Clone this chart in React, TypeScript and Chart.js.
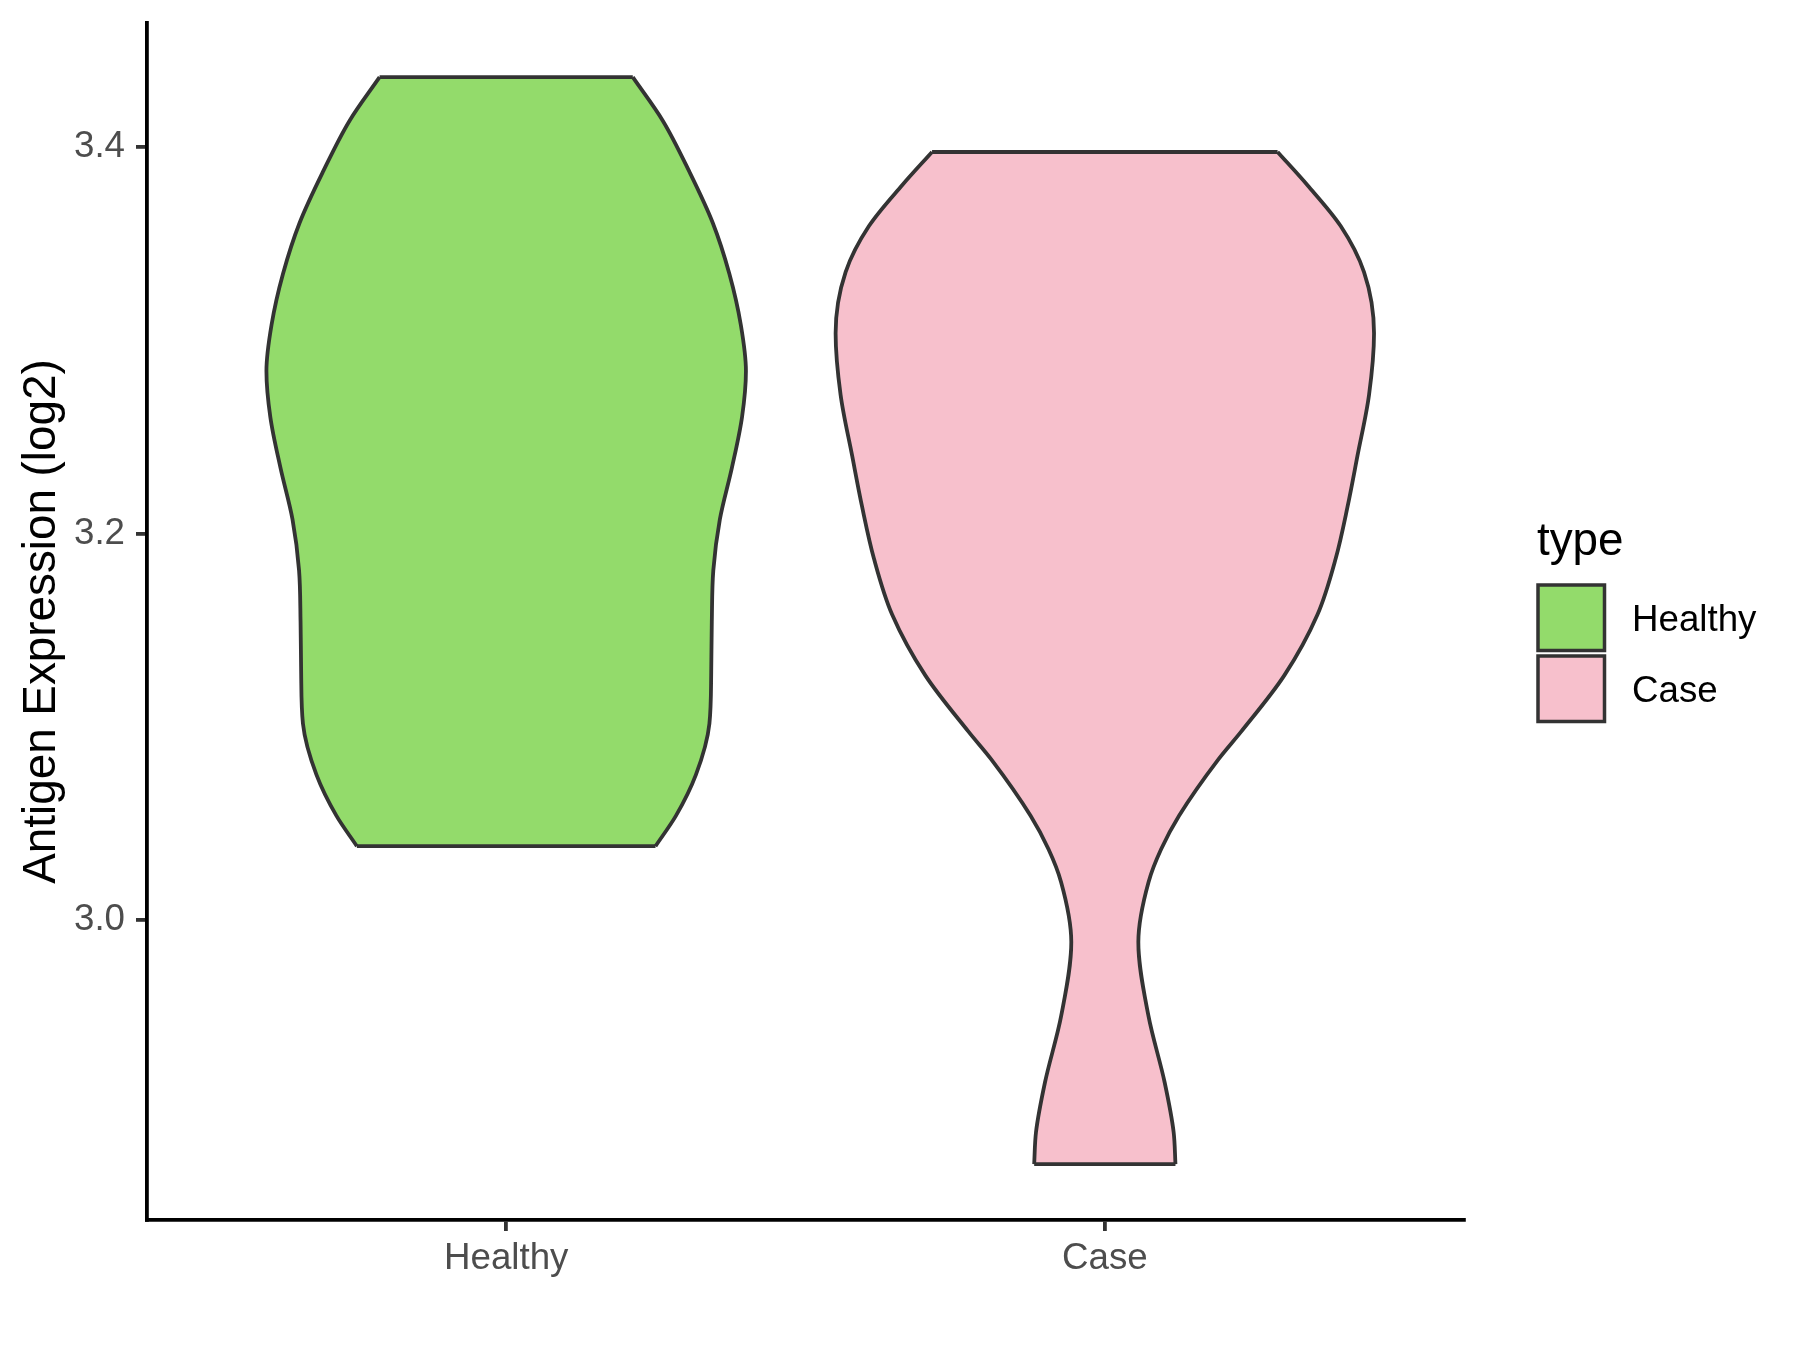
import React, { useEffect, useRef } from 'react';
import { Chart, registerables } from 'chart.js';

Chart.register(...registerables);

// ---- data ----
const categories = ['Healthy', 'Case'];
const categoryPositions = [1, 2];

// Healthy violin outline: expression values (log2) and half-widths (x units)
const healthyValues = [3.0383, 3.0541, 3.0753, 3.1017, 3.1281, 3.1546, 3.181, 3.2074, 3.2339, 3.2603, 3.2841, 3.3078, 3.3343, 3.3607, 3.3871, 3.4135, 3.436];
const healthyHalfWidths = [0.2494, 0.2837, 0.317, 0.3395, 0.3425, 0.3435, 0.346, 0.357, 0.377, 0.394, 0.4005, 0.392, 0.3728, 0.345, 0.306, 0.2616, 0.2115];

// Case violin outline
const caseValues = [2.8739, 2.8903, 2.9161, 2.9504, 2.9887, 3.0197, 3.0367, 3.054, 3.0833, 3.0974, 3.1265, 3.1581, 3.1872, 3.2136, 3.2401, 3.2718, 3.3035, 3.3352, 3.359, 3.3801, 3.3973];
const caseHalfWidths = [0.118, 0.115, 0.1, 0.073, 0.056, 0.073, 0.094, 0.124, 0.19, 0.2274, 0.2996, 0.3553, 0.3858, 0.4053, 0.422, 0.4414, 0.4497, 0.433, 0.394, 0.3386, 0.2886];

const fillColors = ['#93DB6B', '#F7C0CC'];
const yTicks = [3.0, 3.2, 3.4];
const yAxisTitle = 'Antigen Expression (log2)';
const legendTitle = 'type';

const FONT = '"Liberation Sans", Arial, Helvetica, sans-serif';
const OUTLINE = '#333333';
const LINE_W = 3.8;

function violinDatasets(pos: number, values: number[], halfWidths: number[], color: string) {
  const left = values.map((v, i) => ({ x: pos - halfWidths[i], y: v }));
  const right = values.map((v, i) => ({ x: pos + halfWidths[i], y: v }));
  const last = values.length - 1;
  const common = {
    borderColor: OUTLINE,
    borderWidth: LINE_W,
    borderJoinStyle: 'round',
    pointRadius: 0,
    pointHoverRadius: 0,
    cubicInterpolationMode: 'monotone',
  };
  return [
    { ...common, data: left, fill: false, order: 2 },
    { ...common, data: right, fill: '-1', backgroundColor: color, order: 2 },
    { ...common, data: [left[0], right[0]], fill: false, order: 1, cubicInterpolationMode: 'default', tension: 0 },
    { ...common, data: [left[last], right[last]], fill: false, order: 1, cubicInterpolationMode: 'default', tension: 0 },
  ];
}

const legendPlugin = {
  id: 'ggLegend',
  afterDraw(chart: any) {
    const ctx = chart.ctx as CanvasRenderingContext2D;
    ctx.save();
    ctx.textBaseline = 'alphabetic';
    ctx.textAlign = 'left';
    ctx.fillStyle = '#000000';
    ctx.font = `45.8px ${FONT}`;
    ctx.fillText(legendTitle, 1537, 555);
    categories.forEach((c, i) => {
      const top = 585 + i * 71;
      ctx.fillStyle = fillColors[i];
      ctx.fillRect(1538, top, 66.5, 65.5);
      ctx.strokeStyle = OUTLINE;
      ctx.lineWidth = 3.5;
      ctx.strokeRect(1538, top, 66.5, 65.5);
      ctx.fillStyle = '#000000';
      ctx.font = `36.7px ${FONT}`;
      ctx.fillText(c, 1632, top + 46);
    });
    ctx.restore();
  },
};

export default function App() {
  const canvasRef = useRef<HTMLCanvasElement | null>(null);

  useEffect(() => {
    if (!canvasRef.current) return;
    const datasets = [
      ...violinDatasets(categoryPositions[0], healthyValues, healthyHalfWidths, fillColors[0]),
      ...violinDatasets(categoryPositions[1], caseValues, caseHalfWidths, fillColors[1]),
    ];
    const chart = new Chart(canvasRef.current, {
      type: 'line',
      data: { datasets: datasets as any },
      plugins: [legendPlugin as any],
      options: {
        indexAxis: 'y',
        responsive: false,
        animation: false,
        devicePixelRatio: 1,
        layout: { padding: { left: 0, top: 23, right: 336, bottom: 0 } },
        plugins: {
          legend: { display: false },
          tooltip: { enabled: false },
          filler: { propagate: false },
        },
        scales: {
          x: {
            type: 'linear',
            position: 'bottom',
            min: 0.4,
            max: 2.6,
            afterBuildTicks: (s: any) => {
              s.ticks = categoryPositions.map((v) => ({ value: v }));
            },
            afterFit: (s: any) => {
              s.height = 130;
              s.paddingLeft = 0;
              s.paddingRight = 0;
            },
            ticks: {
              autoSkip: false,
              maxRotation: 0,
              padding: 6,
              color: '#4D4D4D',
              font: { size: 36.7, family: FONT },
              callback: (_v: any, i: number) => categories[i],
            },
            grid: { drawOnChartArea: false, drawTicks: true, tickLength: 11, color: OUTLINE, lineWidth: LINE_W },
            border: { display: true, color: '#000000', width: LINE_W },
          },
          y: {
            type: 'linear',
            position: 'left',
            min: 2.845,
            max: 3.464,
            afterBuildTicks: (s: any) => {
              s.ticks = yTicks.map((v) => ({ value: v }));
            },
            afterFit: (s: any) => {
              s.width = 147;
              s.paddingTop = 0;
              s.paddingBottom = 0;
            },
            ticks: {
              padding: 11,
              color: '#4D4D4D',
              font: { size: 36.7, family: FONT },
              callback: (v: any) => Number(v).toFixed(1),
            },
            grid: { drawOnChartArea: false, drawTicks: true, tickLength: 11, color: OUTLINE, lineWidth: LINE_W },
            border: { display: true, color: '#000000', width: LINE_W },
            title: {
              display: true,
              text: yAxisTitle,
              color: '#000000',
              font: { size: 45.8, family: FONT },
              padding: { top: 15, bottom: 0 },
            },
          },
        },
      } as any,
    });
    return () => chart.destroy();
  }, []);

  return (
    <div style={{ position: 'fixed', left: 0, top: 0, width: 1800, height: 1350, background: '#ffffff' }}>
      <canvas ref={canvasRef} width={1800} height={1350} style={{ width: 1800, height: 1350, display: 'block' }} />
    </div>
  );
}
